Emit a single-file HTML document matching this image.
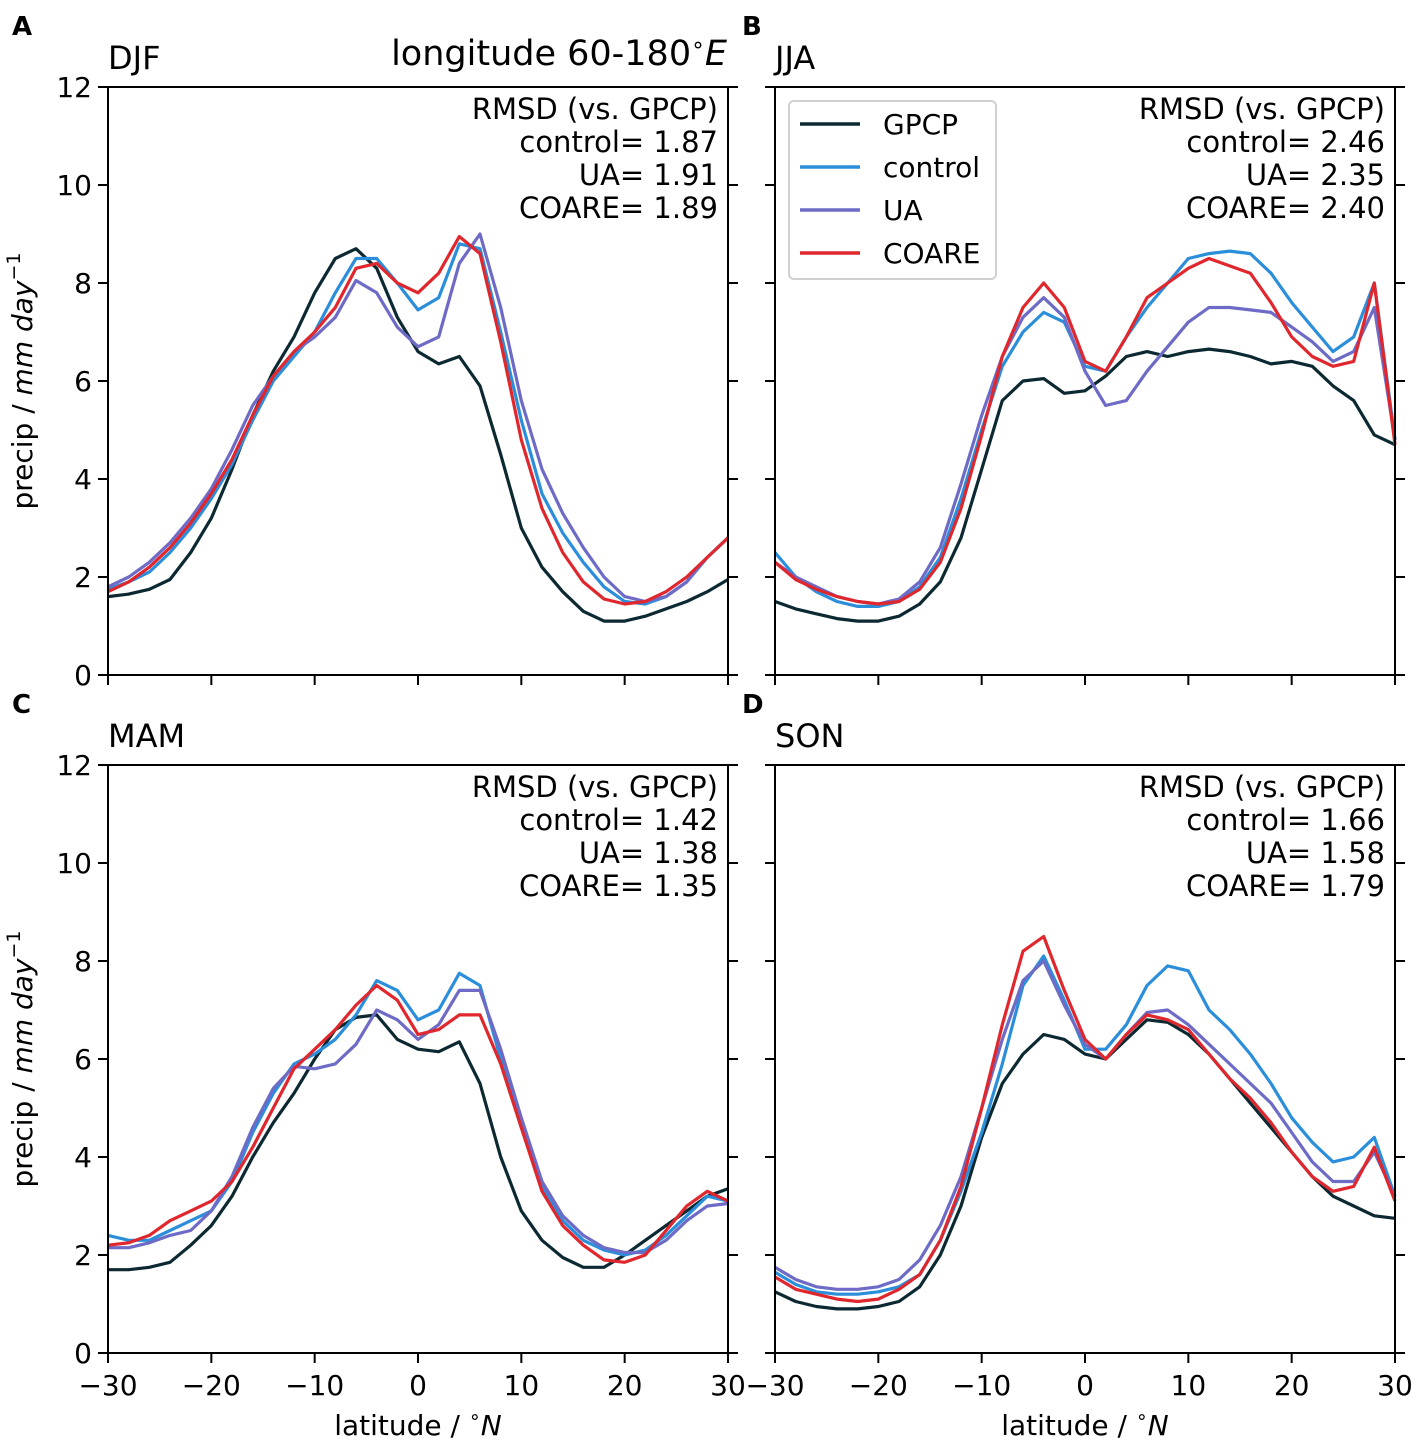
<!DOCTYPE html>
<html><head><meta charset="utf-8"><style>
body{margin:0;background:#fff;}
svg{display:block;font-family:"DejaVu Sans","Liberation Sans",sans-serif;}
</style></head><body>
<svg id="chart" width="1417" height="1442" viewBox="0 0 1417 1442"></svg>
<script>
const lats = [-30,-28,-26,-24,-22,-20,-18,-16,-14,-12,-10,-8,-6,-4,-2,0,2,4,6,8,10,12,14,16,18,20,22,24,26,28,30];
const seriesNames = ["GPCP","control","UA","COARE"];
const colors = ["#0c2932","#2b8edb","#6d6bc6","#df272d"];
const xTicks = [-30,-20,-10,0,10,20,30];
const yTicks = [0,2,4,6,8,10,12];
// Panel A DJF
const djfGPCP = [1.6,1.65,1.75,1.95,2.5,3.2,4.2,5.3,6.2,6.9,7.8,8.5,8.7,8.3,7.3,6.6,6.35,6.5,5.9,4.5,3.0,2.2,1.7,1.3,1.1,1.1,1.2,1.35,1.5,1.7,1.95];
const djfControl = [1.75,1.9,2.1,2.5,3.0,3.6,4.3,5.2,6.0,6.5,7.0,7.8,8.5,8.5,8.0,7.45,7.7,8.8,8.7,7.0,5.2,3.7,2.9,2.3,1.8,1.5,1.45,1.6,1.9,2.4,2.8];
const djfUA = [1.8,2.0,2.3,2.7,3.2,3.8,4.6,5.5,6.1,6.6,6.9,7.3,8.05,7.8,7.1,6.7,6.9,8.4,9.0,7.5,5.6,4.2,3.3,2.6,2.0,1.6,1.5,1.6,1.9,2.4,2.8];
const djfCOARE = [1.7,1.9,2.2,2.6,3.1,3.7,4.4,5.3,6.1,6.6,7.0,7.5,8.3,8.4,8.0,7.8,8.2,8.95,8.6,6.8,4.8,3.4,2.5,1.9,1.55,1.45,1.5,1.7,2.0,2.4,2.8];
// Panel B JJA
const jjaGPCP = [1.5,1.35,1.25,1.15,1.1,1.1,1.2,1.45,1.9,2.8,4.2,5.6,6.0,6.05,5.75,5.8,6.1,6.5,6.6,6.5,6.6,6.65,6.6,6.5,6.35,6.4,6.3,5.9,5.6,4.9,4.7];
const jjaControl = [2.5,2.0,1.7,1.5,1.4,1.4,1.5,1.8,2.4,3.6,5.0,6.3,7.0,7.4,7.2,6.3,6.2,6.9,7.5,8.0,8.5,8.6,8.65,8.6,8.2,7.6,7.1,6.6,6.9,8.0,4.8];
const jjaUA = [2.3,2.0,1.8,1.6,1.5,1.45,1.55,1.9,2.6,3.9,5.3,6.5,7.3,7.7,7.3,6.2,5.5,5.6,6.2,6.7,7.2,7.5,7.5,7.45,7.4,7.1,6.8,6.4,6.6,7.5,4.8];
const jjaCOARE = [2.3,1.95,1.75,1.6,1.5,1.45,1.5,1.75,2.3,3.4,4.9,6.5,7.5,8.0,7.5,6.4,6.2,6.9,7.7,8.0,8.3,8.5,8.35,8.2,7.6,6.9,6.5,6.3,6.4,8.0,4.7];
// Panel C MAM
const mamGPCP = [1.7,1.7,1.75,1.85,2.2,2.6,3.2,4.0,4.7,5.3,6.0,6.6,6.85,6.9,6.4,6.2,6.15,6.35,5.5,4.0,2.9,2.3,1.95,1.75,1.75,2.0,2.3,2.6,2.9,3.2,3.35];
const mamControl = [2.4,2.3,2.3,2.5,2.7,2.9,3.5,4.5,5.3,5.9,6.1,6.4,6.9,7.6,7.4,6.8,7.0,7.75,7.5,6.0,4.6,3.4,2.7,2.3,2.1,2.0,2.1,2.4,2.8,3.2,3.1];
const mamUA = [2.15,2.15,2.25,2.4,2.5,2.9,3.6,4.6,5.4,5.85,5.8,5.9,6.3,7.0,6.8,6.4,6.7,7.4,7.4,6.2,4.8,3.5,2.8,2.4,2.15,2.05,2.05,2.3,2.7,3.0,3.05];
const mamCOARE = [2.2,2.25,2.4,2.7,2.9,3.1,3.5,4.2,5.0,5.8,6.2,6.6,7.1,7.5,7.2,6.5,6.6,6.9,6.9,5.9,4.6,3.3,2.6,2.2,1.9,1.85,2.0,2.5,3.0,3.3,3.1];
// Panel D SON
const sonGPCP = [1.25,1.05,0.95,0.9,0.9,0.95,1.05,1.35,2.0,3.0,4.4,5.5,6.1,6.5,6.4,6.1,6.0,6.4,6.8,6.75,6.5,6.1,5.6,5.1,4.6,4.1,3.6,3.2,3.0,2.8,2.75];
const sonControl = [1.65,1.4,1.25,1.2,1.2,1.25,1.35,1.6,2.3,3.3,4.5,5.9,7.5,8.1,7.2,6.2,6.2,6.7,7.5,7.9,7.8,7.0,6.6,6.1,5.5,4.8,4.3,3.9,4.0,4.4,3.2];
const sonUA = [1.75,1.5,1.35,1.3,1.3,1.35,1.5,1.9,2.6,3.6,5.0,6.4,7.6,8.0,7.1,6.3,6.0,6.5,6.95,7.0,6.7,6.3,5.9,5.5,5.1,4.5,3.9,3.5,3.5,4.1,3.2];
const sonCOARE = [1.55,1.3,1.2,1.1,1.05,1.1,1.3,1.6,2.3,3.4,5.0,6.7,8.2,8.5,7.4,6.4,6.0,6.5,6.9,6.8,6.6,6.1,5.6,5.2,4.7,4.1,3.6,3.3,3.4,4.2,3.1];
const rmsdDJF = ["1.87","1.91","1.89"];
const rmsdJJA = ["2.46","2.35","2.40"];
const rmsdMAM = ["1.42","1.38","1.35"];
const rmsdSON = ["1.66","1.58","1.79"];

const NS="http://www.w3.org/2000/svg";
const svg=document.getElementById('chart');
function mk(tag,attrs,parent,txt){const e=document.createElementNS(NS,tag);for(const k in attrs)e.setAttribute(k,attrs[k]);if(txt!==undefined)e.textContent=txt;(parent||svg).appendChild(e);return e;}

const panels=[
 {id:'a',letter:'A',season:'DJF',x0:108,y0:87,lx:12,data:[djfGPCP,djfControl,djfUA,djfCOARE],rmsd:rmsdDJF,ylab:true,xlab:false},
 {id:'b',letter:'B',season:'JJA',x0:775,y0:87,lx:742,data:[jjaGPCP,jjaControl,jjaUA,jjaCOARE],rmsd:rmsdJJA,ylab:false,xlab:false},
 {id:'c',letter:'C',season:'MAM',x0:108,y0:765,lx:12,data:[mamGPCP,mamControl,mamUA,mamCOARE],rmsd:rmsdMAM,ylab:true,xlab:true},
 {id:'d',letter:'D',season:'SON',x0:775,y0:765,lx:742,data:[sonGPCP,sonControl,sonUA,sonCOARE],rmsd:rmsdSON,ylab:false,xlab:true}
];
const W=620,H=588;
panels.forEach(p=>{
  const g=mk('g',{},svg);
  
  
  const xs=v=>p.x0+(v+30)/60*W;
  const ys=v=>p.y0+H-v/12*H;
  p.data.forEach((arr,si)=>{
    const d=arr.map((v,i)=>(i?'L':'M')+xs(lats[i]).toFixed(1)+' '+ys(v).toFixed(1)).join(' ');
    const pl=mk('path',{d:d,fill:'none',stroke:colors[si],'stroke-width':3.2,'stroke-linejoin':'round'},g);
    
    
  });
  const fr=mk('rect',{x:p.x0,y:p.y0,width:W,height:H,fill:'none',stroke:'#000','stroke-width':2},g);
  
  
  yTicks.forEach(t=>{
    const y=ys(t);
    mk('line',{x1:p.x0-10,x2:p.x0,y1:y,y2:y,stroke:'#000','stroke-width':2},g);
    mk('line',{x1:p.x0+W,x2:p.x0+W+10,y1:y,y2:y,stroke:'#000','stroke-width':2},g);
    if(p.ylab){const tl=mk('text',{x:p.x0-16,y:y+10,'text-anchor':'end','font-size':28},g,String(t));
      }
  });
  xTicks.forEach(t=>{
    const x=xs(t);
    mk('line',{x1:x,x2:x,y1:p.y0+H,y2:p.y0+H+10,stroke:'#000','stroke-width':2},g);
    if(p.xlab){const tl=mk('text',{x:x,y:p.y0+H+42,'text-anchor':'middle','font-size':28},g,(t<0?'\u2212':'')+Math.abs(t));
      }
  });
  const L=mk('text',{x:p.lx,y:p.y0-52,'font-size':26,'font-weight':'bold'},g,p.letter);
  
  const S=mk('text',{x:p.x0,y:p.y0-18,'font-size':32},g,p.season);
  
  const lines=['RMSD (vs. GPCP)','control= '+p.rmsd[0],'UA= '+p.rmsd[1],'COARE= '+p.rmsd[2]];
  lines.forEach((s,i)=>{const t=mk('text',{x:p.x0+W-10,y:p.y0+32+i*33,'text-anchor':'end','font-size':29},g,s);
    });
  if(p.ylab){const t=mk('text',{transform:'translate(32,'+(p.y0+H/2)+') rotate(-90)','text-anchor':'middle','font-size':28},g);
    
    t.innerHTML='precip / <tspan font-style="italic">mm day</tspan><tspan dy="-12" font-size="19">\u22121</tspan>';}
  if(p.xlab){const t=mk('text',{x:p.x0+W/2,y:p.y0+H+82,'text-anchor':'middle','font-size':28},g);
    
    t.innerHTML='latitude / <tspan font-size="19" dy="-12">\u2218</tspan><tspan dy="12" font-style="italic">N</tspan>';}
});
const lt=mk('text',{x:727,y:65,'text-anchor':'end','font-size':35});

lt.innerHTML='longitude 60-180<tspan font-size="22" dy="-13">\u2218</tspan><tspan dy="13" font-style="italic">E</tspan>';
const lg=mk('g',{});

mk('rect',{x:789,y:101,width:207,height:178,rx:5,fill:'#fff',stroke:'#d0d0d0','stroke-width':2},lg);
seriesNames.forEach((n,i)=>{
  const y=124+i*43;
  const e=mk('g',{},lg);
  
  
  mk('line',{x1:800,x2:860,y1:y,y2:y,stroke:colors[i],'stroke-width':3.5},e);
  mk('text',{x:883,y:y+10,'font-size':28},e,n);
});
</script>
</body></html>
